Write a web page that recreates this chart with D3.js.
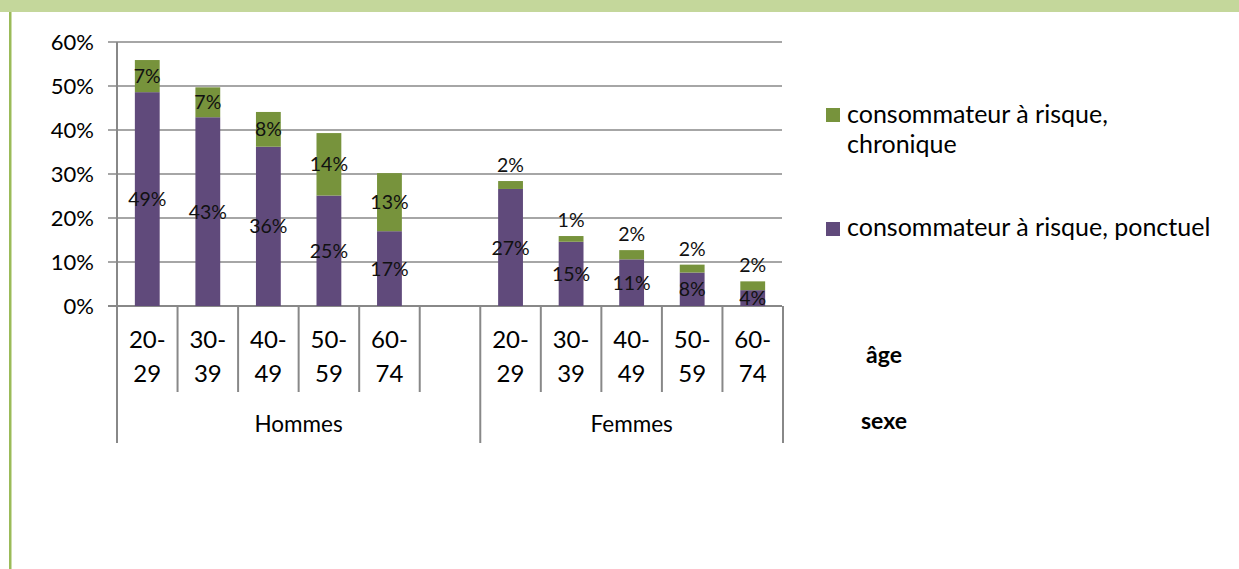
<!DOCTYPE html>
<html>
<head>
<meta charset="utf-8">
<script src="https://cdn.jsdelivr.net/npm/d3@7"></script>
<style>
  html, body { margin: 0; padding: 0; background: #ffffff; }
  svg { display: block; font-family: Lato, "Open Sans", sans-serif; }
</style>
</head>
<body>
<svg id="chart" width="1239" height="569"></svg>
<script>
// ---- data ----
const sexes = ["Hommes", "Femmes"];
const ages = ["20-29", "30-39", "40-49", "50-59", "60-74"];
const seriesNames = ["consommateur à risque, chronique", "consommateur à risque, ponctuel"];
const ponctuelHommes = [48.6, 42.9, 36.2, 25.1, 17.0];
const chroniqueHommes = [7.3, 6.8, 7.9, 14.2, 13.2];
const ponctuelFemmes = [26.6, 14.6, 10.6, 7.6, 3.6];
const chroniqueFemmes = [1.8, 1.3, 2.1, 1.8, 2.0];
const yTicks = [0, 10, 20, 30, 40, 50, 60];
const axisTitles = ["âge", "sexe"];

// ---- build rows (Hommes group has an empty trailing slot) ----
const rows = [];
ages.forEach((a, i) => rows.push({key: "H" + i, sex: 0, age: a, p: ponctuelHommes[i], c: chroniqueHommes[i]}));
rows.push({key: "Hgap", sex: 0, age: null});
ages.forEach((a, i) => rows.push({key: "F" + i, sex: 1, age: a, p: ponctuelFemmes[i], c: chroniqueFemmes[i]}));

const colors = {c: "#77933c", p: "#604a7b"};
const gridColor = "#888888";

const svg = d3.select("#chart");

// frame decorations
svg.append("rect").attr("x", 0).attr("y", 0).attr("width", 1239).attr("height", 12).attr("fill", "#c4d79b");
svg.append("rect").attr("x", 9).attr("y", 12).attr("width", 2.5).attr("height", 557).attr("fill", "#9bbb59");

const x = d3.scaleBand().domain(rows.map(d => d.key)).range([117, 783]).padding(0);
const y = d3.scaleLinear().domain([0, 60]).range([306, 42]);

// gridlines
svg.append("g").selectAll("line").data(yTicks).join("line")
  .attr("x1", 108).attr("x2", 782)
  .attr("y1", d => y(d)).attr("y2", d => y(d))
  .attr("stroke", gridColor).attr("stroke-width", d => d === 0 ? 2 : 1.4);

// y axis line
svg.append("line").attr("x1", 117).attr("x2", 117).attr("y1", y(60)).attr("y2", y(0))
  .attr("stroke", gridColor).attr("stroke-width", 2);

// y tick labels
svg.append("g").selectAll("text").data(yTicks).join("text")
  .attr("x", 94).attr("y", d => y(d)).attr("dy", "0.36em")
  .attr("text-anchor", "end").attr("font-size", 22).attr("fill", "#000")
  .text(d => d + "%");

// bars
const bw = x.bandwidth() * 0.41;
const barRows = rows.filter(d => d.age);
const gb = svg.append("g");
gb.selectAll("rect.p").data(barRows).join("rect").attr("class", "p")
  .attr("x", d => x(d.key) + x.bandwidth() / 2 - bw / 2).attr("width", bw)
  .attr("y", d => y(d.p)).attr("height", d => y(0) - y(d.p))
  .attr("fill", colors.p);
gb.selectAll("rect.c").data(barRows).join("rect").attr("class", "c")
  .attr("x", d => x(d.key) + x.bandwidth() / 2 - bw / 2).attr("width", bw)
  .attr("y", d => y(d.p + d.c)).attr("height", d => y(d.p) - y(d.p + d.c))
  .attr("fill", colors.c);

// data labels
const gl = svg.append("g").attr("font-size", 19.5).attr("fill", "#111").attr("text-anchor", "middle");
gl.selectAll("text.lp").data(barRows).join("text").attr("class", "lp")
  .attr("x", d => x(d.key) + x.bandwidth() / 2)
  .attr("y", d => (y(d.p) + y(0)) / 2).attr("dy", "0.36em")
  .text(d => Math.round(d.p) + "%");
gl.selectAll("text.lc").data(barRows).join("text").attr("class", "lc")
  .attr("x", d => x(d.key) + x.bandwidth() / 2)
  .attr("y", d => {
    const h = y(d.p) - y(d.p + d.c);
    return h < 20 ? y(d.p + d.c) - 16 : (y(d.p) + y(d.p + d.c)) / 2;
  })
  .attr("dy", "0.36em")
  .text(d => Math.round(d.c) + "%");

// category axis (multi-level)
const bounds = rows.map(d => x(d.key)).concat([x.range()[1]]);
const groupBounds = [0, 6, 11];
svg.append("g").selectAll("line").data(bounds).join("line")
  .attr("x1", d => d).attr("x2", d => d)
  .attr("y1", 306).attr("y2", (d, i) => groupBounds.includes(i) ? 443 : 392)
  .attr("stroke", gridColor).attr("stroke-width", 2);

const gx = svg.append("g").attr("fill", "#000").attr("text-anchor", "middle");
barRows.forEach(d => {
  const parts = d.age.split("-");
  const cx = x(d.key) + x.bandwidth() / 2;
  gx.append("text").attr("x", cx).attr("y", 348).attr("font-size", 24).text(parts[0] + "-");
  gx.append("text").attr("x", cx).attr("y", 382).attr("font-size", 24).text(parts[1]);
});
sexes.forEach((s, i) => {
  const x0 = bounds[groupBounds[i]], x1 = bounds[groupBounds[i + 1]];
  gx.append("text").attr("x", (x0 + x1) / 2).attr("y", 432).attr("font-size", 22.5).text(s);
});

// axis titles
svg.append("g").attr("font-size", 23).attr("font-weight", "bold").attr("fill", "#000").attr("text-anchor", "middle")
  .selectAll("text").data(axisTitles).join("text")
  .attr("x", 884).attr("y", (d, i) => i === 0 ? 363 : 429).text(d => d);

// legend
const lg = svg.append("g").attr("font-size", 25).attr("fill", "#000");
lg.append("rect").attr("x", 826).attr("y", 108).attr("width", 14).attr("height", 14).attr("fill", colors.c);
const t1 = lg.append("text").attr("x", 847).attr("y", 123);
t1.append("tspan").attr("x", 847).text(seriesNames[0].split(", ")[0] + ",");
t1.append("tspan").attr("x", 847).attr("dy", 30).text(seriesNames[0].split(", ")[1]);
lg.append("rect").attr("x", 826).attr("y", 222).attr("width", 14).attr("height", 14).attr("fill", colors.p);
lg.append("text").attr("x", 847).attr("y", 236).text(seriesNames[1]);
</script>
</body>
</html>
